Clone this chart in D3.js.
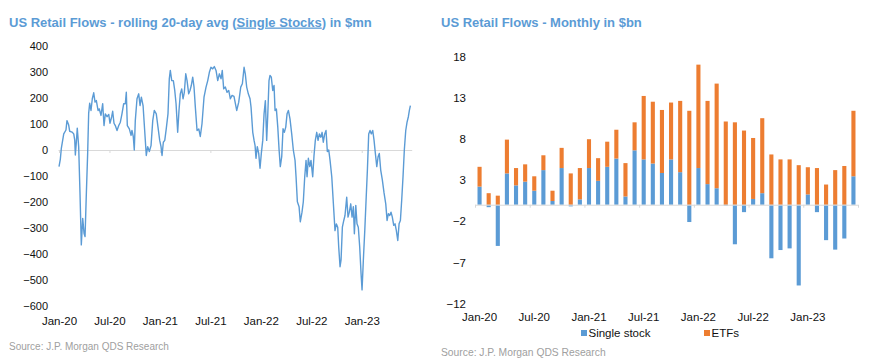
<!DOCTYPE html>
<html>
<head>
<meta charset="utf-8">
<script src="https://cdn.jsdelivr.net/npm/d3@7"></script>
<style>
  body { margin: 0; background: #fff; }
  svg text { font-family: "Liberation Sans", Arial, sans-serif; }
</style>
</head>
<body>
<script>
// ---- data: left chart, rolling 20-day avg single stocks ($mn) ----
const lineT = [2020.000,2020.013,2020.023,2020.047,2020.069,2020.079,2020.096,2020.106,2020.129,2020.146,
  2020.156,2020.162,2020.171,2020.181,2020.195,2020.208,2020.221,2020.235,2020.248,2020.258,
  2020.271,2020.284,2020.294,2020.304,2020.317,2020.330,2020.344,2020.357,2020.370,2020.387,
  2020.399,2020.416,2020.433,2020.446,2020.459,2020.476,2020.493,2020.505,2020.522,2020.532,
  2020.545,2020.558,2020.575,2020.592,2020.608,2020.624,2020.641,2020.657,2020.667,2020.677,
  2020.697,2020.714,2020.723,2020.736,2020.746,2020.756,2020.773,2020.790,2020.803,2020.816,
  2020.833,2020.849,2020.865,2020.879,2020.895,2020.912,2020.929,2020.944,2020.964,2020.981,
  2020.998,2021.011,2021.021,2021.034,2021.048,2021.063,2021.080,2021.093,2021.103,2021.117,
  2021.133,2021.147,2021.160,2021.176,2021.189,2021.202,2021.216,2021.229,2021.242,2021.256,
  2021.269,2021.285,2021.298,2021.311,2021.325,2021.338,2021.351,2021.368,2021.385,2021.400,
  2021.417,2021.437,2021.457,2021.474,2021.490,2021.506,2021.523,2021.539,2021.556,2021.573,
  2021.589,2021.606,2021.618,2021.632,2021.648,2021.665,2021.682,2021.698,2021.715,2021.734,
  2021.761,2021.781,2021.801,2021.817,2021.834,2021.846,2021.860,2021.876,2021.893,2021.903,
  2021.920,2021.933,2021.943,2021.952,2021.965,2021.979,2021.992,2022.005,2022.019,2022.032,
  2022.045,2022.058,2022.068,2022.081,2022.091,2022.104,2022.118,2022.131,2022.141,2022.154,
  2022.168,2022.181,2022.193,2022.207,2022.220,2022.233,2022.247,2022.260,2022.273,2022.289,
  2022.306,2022.322,2022.339,2022.349,2022.362,2022.379,2022.391,2022.408,2022.421,2022.435,
  2022.448,2022.458,2022.471,2022.485,2022.497,2022.514,2022.527,2022.540,2022.554,2022.567,
  2022.580,2022.594,2022.607,2022.619,2022.633,2022.646,2022.659,2022.673,2022.686,2022.703,
  2022.719,2022.735,2022.748,2022.762,2022.772,2022.785,2022.795,2022.808,2022.822,2022.834,
  2022.851,2022.864,2022.877,2022.891,2022.904,2022.917,2022.927,2022.941,2022.953,2022.966,
  2022.980,2022.993,2023.003,2023.016,2023.030,2023.043,2023.056,2023.069,2023.082,2023.095,
  2023.109,2023.122,2023.135,2023.149,2023.162,2023.174,2023.188,2023.204,2023.221,2023.238,
  2023.251,2023.264,2023.277,2023.290,2023.303,2023.317,2023.330,2023.343,2023.357,2023.370,
  2023.383,2023.396,2023.409,2023.422,2023.436,2023.449,2023.462,2023.472,2023.482];
const lineV = [-64,-36,6,62,77,113,96,72,69,62,
  38,-19,26,84,13,-165,-365,-263,-320,-333,
  -167,-13,141,180,152,197,220,184,190,152,
  158,133,178,94,139,128,137,103,128,149,
  103,94,75,94,107,139,178,178,222,94,
  81,56,75,52,0,113,197,216,171,203,
  171,75,-21,13,-6,17,113,152,139,88,
  37,13,-21,30,37,82,139,274,306,267,
  267,229,178,68,152,216,235,197,222,293,
  267,216,229,248,280,242,165,75,81,52,
  101,203,242,267,299,318,312,321,306,267,
  293,274,306,235,242,222,229,197,210,206,
  152,184,242,255,318,293,242,216,197,165,
  68,37,17,-32,13,-13,-70,-13,37,139,
  190,37,128,267,287,280,229,248,152,158,
  88,0,-64,-26,82,68,88,139,152,120,
  62,0,-40,-103,-199,-218,-276,-239,-199,-103,
  -40,-103,-32,-64,-40,-103,-21,37,68,37,
  62,49,68,30,62,75,-6,0,-40,-103,
  -207,-310,-284,-297,-374,-449,-423,-297,-271,-252,
  -182,-258,-239,-207,-258,-218,-322,-213,-284,-297,
  -374,-474,-538,-423,-310,-192,-77,62,75,62,
  75,37,-13,-64,-26,-13,-77,-115,-165,-207,
  -271,-245,-252,-239,-258,-290,-284,-310,-348,-284,
  -271,-192,-103,0,75,107,128,152,171];
const leftYTicks = [-600, -500, -400, -300, -200, -100, 0, 100, 200, 300, 400];
const leftXTicks = [2020, 2020.5, 2021, 2021.5, 2022, 2022.5, 2023];
const leftXLabels = ["Jan-20", "Jul-20", "Jan-21", "Jul-21", "Jan-22", "Jul-22", "Jan-23"];

// ---- data: right chart, monthly flows ($bn) ----
const months = ["2020-01","2020-02","2020-03","2020-04","2020-05","2020-06","2020-07","2020-08","2020-09","2020-10","2020-11","2020-12",
  "2021-01","2021-02","2021-03","2021-04","2021-05","2021-06","2021-07","2021-08","2021-09","2021-10","2021-11","2021-12",
  "2022-01","2022-02","2022-03","2022-04","2022-05","2022-06","2022-07","2022-08","2022-09","2022-10","2022-11","2022-12",
  "2023-01","2023-02","2023-03","2023-04","2023-05","2023-06"];
const singleStock = [2.2,-0.3,-5.0,3.8,2.35,2.8,1.7,4.2,0.45,4.45,-0.2,0.65,
  4.45,2.9,4.6,5.6,1.0,6.6,5.5,5.0,3.85,5.5,3.95,-2.1,
  4.45,2.5,2.0,-0.1,-4.8,-0.9,0.7,1.4,-6.5,-5.5,-5.3,-9.8,
  1.25,-0.9,-4.3,-5.45,-4.1,3.45];
const etfs = [2.4,1.4,1.1,4.1,2.1,2.1,1.75,1.8,1.25,2.45,3.8,3.8,
  3.5,2.75,3.05,3.5,4.05,3.4,7.7,7.5,7.65,6.9,8.65,11.4,
  12.55,10.1,12.7,10.1,10.0,9.0,7.4,9.1,6.1,5.5,5.5,4.8,
  3.3,4.45,2.45,4.2,4.7,7.95];
const rightYTicks = [-12, -7, -2, 3, 8, 13, 18];
const rightXLabelMonths = ["2020-01","2020-07","2021-01","2021-07","2022-01","2022-07","2023-01"];
const rightXLabels = ["Jan-20", "Jul-20", "Jan-21", "Jul-21", "Jan-22", "Jul-22", "Jan-23"];
const seriesKeys = ["single", "etf"];
const seriesNames = ["Single stock", "ETFs"];

const W = 871, H = 363;
const blue = "#5b9bd5", orange = "#ed7d31", titleColor = "#5b9bd5", axisGray = "#d9d9d9";

const svg = d3.select("body").append("svg")
  .attr("width", W)
  .attr("height", H);

// ================= left chart =================
const left = svg.append("g");

left.append("text")
  .attr("x", 9).attr("y", 26.5)
  .attr("fill", titleColor)
  .attr("font-size", 13).attr("font-weight", "bold")
  .call(t => {
    t.append("tspan").text("US Retail Flows - rolling 20-day avg (");
    t.append("tspan").attr("text-decoration", "underline").text("Single Stocks");
    t.append("tspan").text(") in $mn");
  });

const lx = d3.scaleLinear().domain([2020, 2023.5]).range([59, 412.2]);
const ly = d3.scaleLinear().domain([-600, 400]).range([306, 46]);

// y labels
const lyAxis = left.append("g")
  .attr("transform", "translate(48,0)")
  .call(d3.axisLeft(ly).tickValues(leftYTicks).tickSize(0).tickPadding(0).tickFormat(d3.format("d")));
lyAxis.select(".domain").remove();
lyAxis.selectAll("text").attr("font-size", 11).attr("fill", "#111").attr("font-family", null);

// zero line with tick marks
const lZero = left.append("g")
  .attr("transform", "translate(0," + ly(0) + ")")
  .call(d3.axisBottom(lx).tickValues(leftXTicks).tickSize(3).tickFormat(""));
lZero.select(".domain").attr("stroke", axisGray).attr("d", "M58.5,0.5H412.2");
lZero.selectAll(".tick line").attr("stroke", axisGray);

// x labels at the bottom
const lxLab = left.append("g")
  .attr("transform", "translate(0,317)")
  .call(d3.axisBottom(lx).tickValues(leftXTicks).tickSize(0).tickPadding(0)
    .tickFormat((d, i) => leftXLabels[i]));
lxLab.select(".domain").remove();
lxLab.selectAll("text").attr("font-size", 11.5).attr("fill", "#111").attr("font-family", null);

const lineData = lineT.map((t, i) => ({ t: t, v: lineV[i] }));
left.append("path")
  .datum(lineData)
  .attr("fill", "none")
  .attr("stroke", blue)
  .attr("stroke-width", 1.4)
  .attr("stroke-linejoin", "round")
  .attr("d", d3.line().x(d => lx(d.t)).y(d => ly(d.v)));

left.append("text")
  .attr("x", 9).attr("y", 349.5)
  .attr("fill", "#a0a0a0")
  .attr("font-size", 10)
  .text("Source: J.P. Morgan QDS Research");

// ================= right chart =================
const right = svg.append("g");

right.append("text")
  .attr("x", 441).attr("y", 26.5)
  .attr("fill", titleColor)
  .attr("font-size", 13).attr("font-weight", "bold")
  .text("US Retail Flows - Monthly in $bn");

const rx = d3.scaleBand().domain(months).range([475, 858]).paddingInner(0.55).paddingOuter(0.275);
const rIdx = d3.scaleLinear().domain([0, months.length]).range([475, 858]);
const ry = d3.scaleLinear().domain([-12, 18]).range([303.6, 56.4]);

const ryAxis = right.append("g")
  .attr("transform", "translate(466,0)")
  .call(d3.axisLeft(ry).tickValues(rightYTicks).tickSize(0).tickPadding(0));
ryAxis.select(".domain").remove();
ryAxis.selectAll("text").attr("font-size", 11.5).attr("fill", "#111").attr("font-family", null);

const tableData = months.map((m, i) => ({ month: m, single: singleStock[i], etf: etfs[i] }));
const stacked = d3.stack().keys(seriesKeys).offset(d3.stackOffsetDiverging)(tableData);
const color = d3.scaleOrdinal().domain(seriesKeys).range([blue, orange]);

right.append("g")
  .selectAll("g")
  .data(stacked)
  .join("g")
  .attr("fill", d => color(d.key))
  .selectAll("rect")
  .data(d => d)
  .join("rect")
  .attr("x", d => rx(d.data.month))
  .attr("width", rx.bandwidth())
  .attr("y", d => ry(Math.max(d[0], d[1])))
  .attr("height", d => Math.abs(ry(d[0]) - ry(d[1])));

// zero line with tick marks at half-year edges
const rZero = right.append("g")
  .attr("transform", "translate(0," + ry(0) + ")")
  .call(d3.axisBottom(rIdx).tickValues([0, 6, 12, 18, 24, 30, 36, 42]).tickSize(3).tickFormat(""));
rZero.select(".domain").attr("stroke", axisGray).attr("d", "M475,0.5H858");
rZero.selectAll(".tick line").attr("stroke", axisGray);

const rxLab = right.append("g")
  .attr("transform", "translate(0,313)")
  .call(d3.axisBottom(rx).tickValues(rightXLabelMonths).tickSize(0).tickPadding(0)
    .tickFormat((d, i) => rightXLabels[i]));
rxLab.select(".domain").remove();
rxLab.selectAll("text").attr("font-size", 11.5).attr("fill", "#111").attr("font-family", null);

// legend
const legendX = [581, 704];
const legend = right.append("g");
seriesKeys.forEach((k, i) => {
  legend.append("rect")
    .attr("x", legendX[i]).attr("y", 330)
    .attr("width", 6).attr("height", 6)
    .attr("fill", color(k));
  legend.append("text")
    .attr("x", legendX[i] + 7.5).attr("y", 337)
    .attr("font-size", 11.5).attr("fill", "#111")
    .text(seriesNames[i]);
});

right.append("text")
  .attr("x", 441).attr("y", 356)
  .attr("fill", "#a0a0a0")
  .attr("font-size", 10.3)
  .text("Source: J.P. Morgan QDS Research");
</script>
</body>
</html>
